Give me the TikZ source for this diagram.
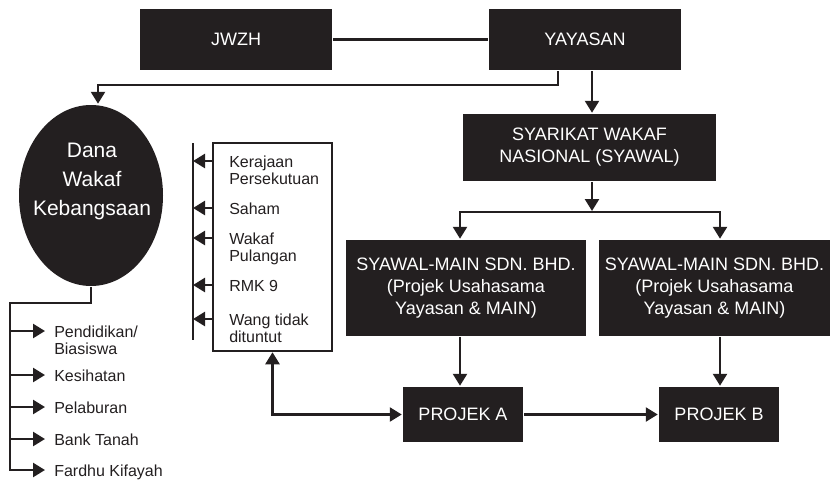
\documentclass[tikz,border=0pt]{standalone}
\usepackage{fontspec}
\setmainfont{Liberation Sans}
\usetikzlibrary{calc,arrows.meta,shapes.geometric}

\definecolor{boxfill}{RGB}{35,31,32}
\tikzset{
	blk/.style={rectangle, fill=boxfill, text=white, inner sep=0pt, align=center,
		font=\fontsize{18}{22}\selectfont},
	arr/.style={-{Triangle[length=12pt,width=14pt]}},
	dbl/.style={{Triangle[length=12pt,width=14pt]}-{Triangle[length=12pt,width=14pt]}},
	item/.style={anchor=north west, inner sep=0pt, align=left, text=boxfill,
		font=\fontsize{16}{16.5}\selectfont},
}

\begin{document}
\begin{tikzpicture}[x=1pt,y=-1pt,line width=2.5pt,color=boxfill]
		\useasboundingbox (0,0) rectangle (832,480);

		% boxes
		\node[blk, minimum width=192, minimum height=61] (jwzh) at (236,39.5) {JWZH};
		\node[blk, minimum width=192, minimum height=61] (yayasan) at (585,39.5) {YAYASAN};
		\node[blk, minimum width=253, minimum height=67] (swn) at (589.5,147.5) {SYARIKAT WAKAF\\NASIONAL (SYAWAL)};
		\node[blk, minimum width=240, minimum height=96] (smA) at (466,288) {SYAWAL-MAIN SDN. BHD.\\(Projek Usahasama\\Yayasan \& MAIN)};
		\node[blk, minimum width=231, minimum height=96] (smB) at (714.5,288) {SYAWAL-MAIN SDN. BHD.\\(Projek Usahasama\\Yayasan \& MAIN)};
		\node[blk, minimum width=120, minimum height=55] (projA) at (463,414.5) {PROJEK A};
		\node[blk, minimum width=120, minimum height=55] (projB) at (719,414.5) {PROJEK B};

		\node[ellipse, fill=boxfill, minimum width=144, minimum height=181, inner sep=0pt] (dana) at (91,195.5) {};
		\node[text=white, align=center, font=\fontsize{21}{29}\selectfont] (danaLbl) at (92,181) {Dana\\Wakaf\\Kebangsaan};

		\node[draw, fill=white, minimum width=119, minimum height=208, inner sep=0pt] (sumber) at (272.5,247) {};

		% top
		\draw (jwzh) -- (yayasan);
		\coordinate (toDana) at (98,85);
		\draw[arr] ([xshift=-27pt]yayasan.south) |- (toDana) -- (toDana |- dana.north);
		\draw[arr] ([xshift=7pt]yayasan.south) -- ([xshift=7pt]yayasan.south |- swn.north);

		% split
		\coordinate (split) at (592,211);
		\coordinate (sL) at (460,212);
		\coordinate (sR) at (720,212);
		\draw[arr] ([xshift=2.5pt]swn.south) -- (split);
		\draw[dbl] (sL |- smA.north) |- (sR) -- (sR |- smB.north);
		\draw[arr] (sL |- smA.south) -- (sL |- projA.north);
		\draw[arr] (sR |- smB.south) -- (sR |- projB.north);
		\draw[arr] (projA) -- (projB);
		\draw[dbl] (sumber.south) |- (projA.west);

		% sources
		\coordinate (rail) at (193,143);
		\draw (rail) -- ++(0,197);
		\foreach \y/\n/\t in {161/kp/{Kerajaan\\Persekutuan}, 208/sah/Saham, 238/wp/{Wakaf\\Pulangan}, 285/rmk/RMK 9, 319/wang/{Wang tidak\\dituntut}} {
			\node[item] (\n) at (228,\y-6) {\t};
			\draw[arr] ([yshift=-6pt]\n.north west -| sumber.west) -- ([yshift=-6pt]\n.north west -| rail);
		}

		% uses
		\coordinate (spine) at (10,303);
		\draw (dana.south) |- (spine) -- ++(0,168);
		\foreach \y/\n/\t in {331/pend/{Pendidikan/\\Biasiswa}, 375/kes/Kesihatan, 407/pel/Pelaburan, 439/bank/Bank Tanah, 470/fard/Fardhu Kifayah} {
			\node[item] (\n) at (53,\y-6) {\t};
			\draw[arr] ([yshift=-6pt]\n.north west -| spine) -- ([xshift=-8pt,yshift=-6pt]\n.north west);
		}

	\end{tikzpicture}
\end{document}
